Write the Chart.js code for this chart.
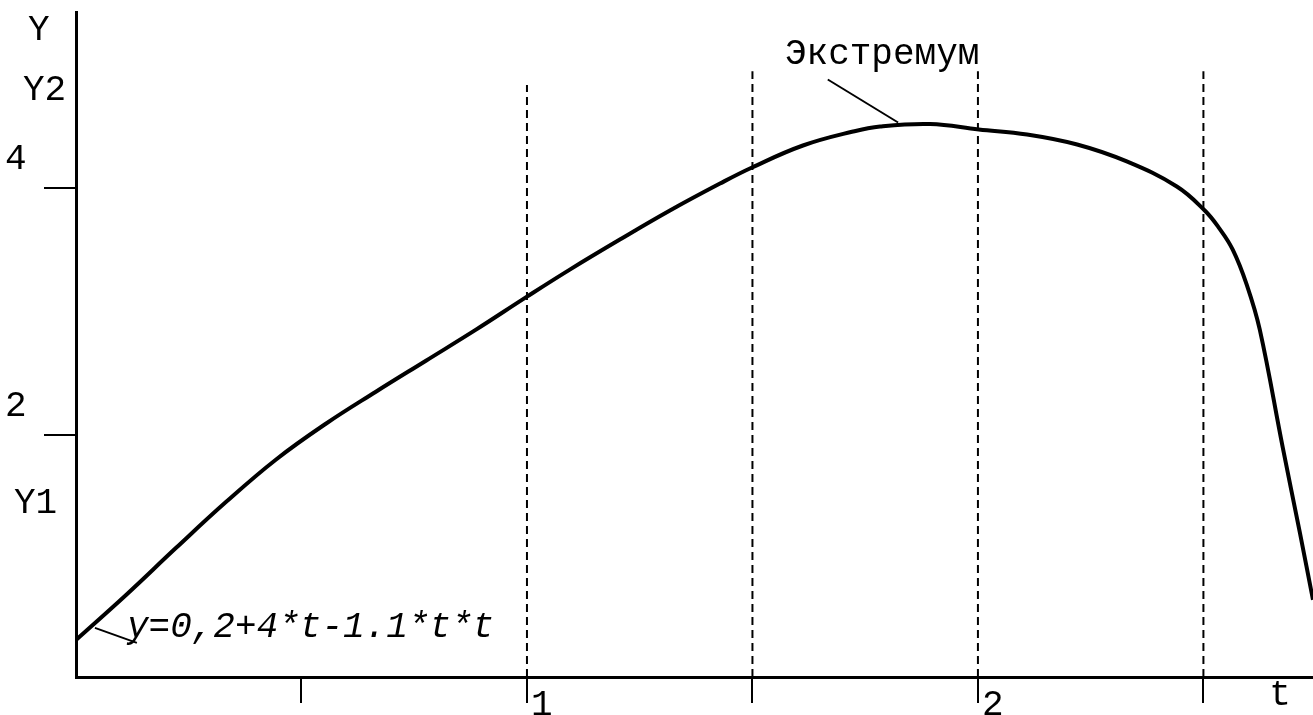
<!DOCTYPE html>
<html>
<head>
<meta charset="utf-8">
<title>Экстремум</title>
<script src="https://cdn.jsdelivr.net/npm/chart.js@4.4.1/dist/chart.umd.min.js"></script>
<style>
  body { margin: 0; background: #fff; }
  #wrap { width: 1313px; height: 715px; position: relative; }
</style>
</head>
<body>
<div id="wrap"><canvas id="myChart"></canvas></div>
<script>
// curve (t, y)
var tValues = [0, 0.111, 0.222, 0.333, 0.443, 0.554, 0.665, 0.776, 0.887, 1.0,
               1.095, 1.206, 1.317, 1.428, 1.499, 1.612, 1.723, 1.783, 1.894, 2.002,
               2.109, 2.220, 2.330, 2.441, 2.503, 2.534, 2.565, 2.596, 2.625, 2.676, 2.714, 2.743];
var yValues = [0.34, 0.704, 1.085, 1.457, 1.798, 2.089, 2.348, 2.599, 2.850, 3.117,
               3.336, 3.579, 3.814, 4.032, 4.162, 4.340, 4.453, 4.494, 4.514, 4.470,
               4.429, 4.348, 4.211, 4.008, 3.814, 3.676, 3.498, 3.215, 2.850, 1.895, 1.206, 0.664];

var xTicks = [0.5, 1, 1.5, 2, 2.5];
var xTickLabels = ['', '1', '', '2', ''];
var yTicks = [2, 4];
var yTickLabels = ['2', '4'];

// dashed verticals
var dashX = [1, 1.5, 2, 2.5];
var dashTop = [4.83, 4.94, 4.94, 4.94];

// axis names (y ones sit at these values)
var yNames = ['Y1', 'Y2', 'Y'];
var yNameAt = [1.37, 4.71, 5.19];
var xName = 't';

var extremumText = 'Экстремум';
var extremumLeader = [[1.667, 4.874], [1.823, 4.526]];
var formulaText = 'y=0,2+4*t-1.1*t*t';
var formulaLeader = [[0.042, 0.437], [0.135, 0.316]];

var xMin = 0, xMax = 2.743, yMin = 0.04, yMax = 5.42;

var datasets = [{
    data: tValues.map(function(t, i) { return {x: t, y: yValues[i]}; }),
    borderColor: '#000',
    borderWidth: 4,
    pointRadius: 0,
    tension: 0.4,
    fill: false
}];

dashX.forEach(function(x, i) {
    datasets.push({
        data: [{x: x, y: yMin}, {x: x, y: dashTop[i]}],
        borderColor: '#000',
        borderWidth: 2,
        borderDash: [8, 5],
        pointRadius: 0
    });
});

[extremumLeader, formulaLeader].forEach(function(seg) {
    datasets.push({
        data: seg.map(function(p) { return {x: p[0], y: p[1]}; }),
        borderColor: '#000',
        borderWidth: 2,
        pointRadius: 0
    });
});

var FONT = '36px "Liberation Mono", "Courier New", monospace';

var textPlugin = {
    id: 'texts',
    afterDraw: function(chart) {
        var ctx = chart.ctx;
        var xs = chart.scales.x, ys = chart.scales.y;
        ctx.save();
        ctx.fillStyle = '#000';
        ctx.font = FONT;
        ctx.textBaseline = 'alphabetic';
        ctx.textAlign = 'left';

        yTicks.forEach(function(v, i) {
            ctx.fillText(yTickLabels[i], 5, ys.getPixelForValue(v) - 19);
        });
        var nameX = [14, 23, 28];
        yNames.forEach(function(n, i) {
            ctx.fillText(n, nameX[i], ys.getPixelForValue(yNameAt[i]));
        });
        xTicks.forEach(function(v, i) {
            if (xTickLabels[i]) ctx.fillText(xTickLabels[i], xs.getPixelForValue(v) + 4, 715);
        });
        ctx.textAlign = 'center';
        ctx.fillText(xName, xs.getPixelForValue(2.67), 705);

        ctx.textAlign = 'left';
        ctx.fillText(extremumText, xs.getPixelForValue(1.572), ys.getPixelForValue(4.996));
        ctx.font = 'italic ' + FONT;
        ctx.fillText(formulaText, xs.getPixelForValue(0.113), ys.getPixelForValue(0.364));
        ctx.restore();
    }
};

var ctx = document.getElementById('myChart');
var chart = new Chart(ctx, {
    type: 'line',
    data: { datasets: datasets },
    options: {
        responsive: true,
        maintainAspectRatio: false,
        animation: false,
        layout: { padding: { top: 12, right: 0, left: 0, bottom: 0 } },
        plugins: { legend: { display: false }, tooltip: { enabled: false } },
        scales: {
            x: {
                type: 'linear',
                min: xMin,
                max: xMax,
                afterFit: function(s) { s.height = 38; },
                afterBuildTicks: function(s) { s.ticks = xTicks.map(function(v) { return {value: v}; }); },
                ticks: { display: false },
                grid: { drawOnChartArea: false, drawTicks: true, tickLength: 26, color: '#000', lineWidth: 2 },
                border: { display: true, color: '#000', width: 3 }
            },
            y: {
                type: 'linear',
                min: yMin,
                max: yMax,
                afterFit: function(s) { s.width = 76; },
                afterBuildTicks: function(s) { s.ticks = yTicks.map(function(v) { return {value: v}; }); },
                ticks: { display: false },
                grid: { drawOnChartArea: false, drawTicks: true, tickLength: 32, color: '#000', lineWidth: 2 },
                border: { display: true, color: '#000', width: 3 }
            }
        }
    },
    plugins: [textPlugin]
});
</script>
</body>
</html>
